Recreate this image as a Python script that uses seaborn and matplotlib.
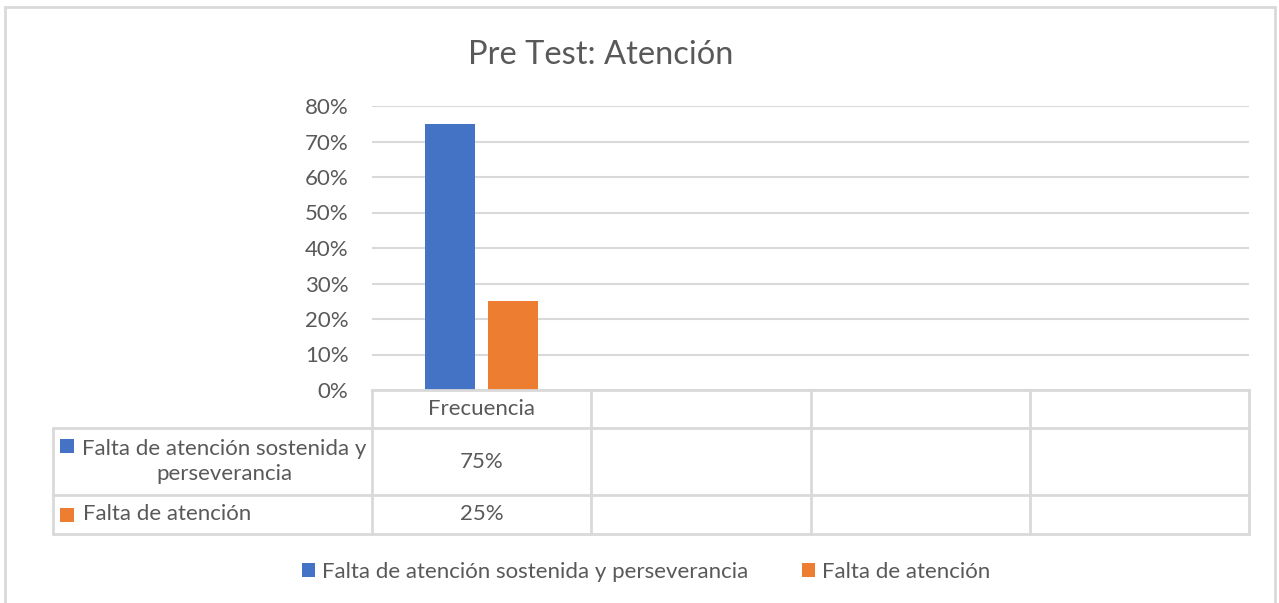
import pandas as pd
import matplotlib
matplotlib.use("Agg")
import matplotlib.pyplot as plt
import seaborn as sns
from matplotlib.patches import Patch, Rectangle
from matplotlib.lines import Line2D
from matplotlib.ticker import PercentFormatter
from matplotlib.transforms import blended_transform_factory

# === Data ===
title = "Pre Test: Atención"
categories = ["Frecuencia", " ", "  ", "   "]
series = ["Falta de atención sostenida y perseverancia", "Falta de atención"]
table_labels = ["Falta de atención sostenida y\nperseverancia", "Falta de atención"]
values = [0.75, 0.25]
colors = ["#4472C4", "#ED7D31"]

W, H = 1279, 603
TXT = "#595959"
GRID = "#d9d9d9"
FS = 16


def fx(x):
    return x / W


def fy(y):
    return 1 - y / H


def main():
    sns.set_theme(style="white")
    plt.rcParams["font.family"] = ["Lato", "DejaVu Sans"]

    df = pd.DataFrame({"categoria": [categories[0]] * len(series),
                       "serie": series,
                       "valor": values})

    fig = plt.figure(figsize=(W / 100, H / 100), dpi=100)
    fig.patch.set_facecolor("white")
    ax = fig.add_axes([fx(372), fy(390), fx(1249) - fx(372), fy(106) - fy(390)])

    sns.barplot(data=df, x="categoria", y="valor", hue="serie",
                order=categories, hue_order=series, palette=colors,
                saturation=1, width=0.575, gap=0.2, linewidth=0,
                legend=False, ax=ax)

    ax.set_xlim(-0.5, len(categories) - 0.5)
    ax.set_ylim(0, 0.8)
    ax.set_yticks([i / 10 for i in range(9)])
    ax.yaxis.set_major_formatter(PercentFormatter(1, decimals=0))
    ax.set_xticks([])
    ax.set_xlabel("")
    ax.set_ylabel("")
    ax.tick_params(axis="y", length=0, pad=17, labelsize=FS, labelcolor=TXT)
    ax.yaxis.grid(True, color=GRID, lw=1.5)
    ax.set_axisbelow(True)
    for s in ["top", "right", "left"]:
        ax.spines[s].set_visible(False)
    ax.spines["bottom"].set_color(GRID)
    ax.spines["bottom"].set_linewidth(2)

    fig.text(fx(601), fy(55), title, ha="center", va="center",
             fontsize=23.5, color=TXT)

    # === Data table below the axis ===
    tr = blended_transform_factory(ax.transData, fig.transFigure)
    n = len(categories)
    row_y = [390, 428, 495, 534]
    for xb in [i - 0.5 for i in range(n + 1)]:
        fig.add_artist(Line2D([xb, xb], [fy(390), fy(534)], transform=tr,
                              color=GRID, lw=2))
    fig.add_artist(Line2D([fx(53), fx(53)], [fy(428), fy(534)],
                          color=GRID, lw=2))
    for yy in row_y[1:]:
        fig.add_artist(Line2D([fx(53), fx(1249)], [fy(yy), fy(yy)],
                              color=GRID, lw=2))

    fig.text(0, fy(409), categories[0], transform=tr, ha="center", va="center",
             fontsize=FS, color=TXT)
    row_mid = [461.5, 514.5]
    square_top = [439, 508]
    for i, (val, col) in enumerate(zip(values, colors)):
        fig.text(0, fy(row_mid[i]), f"{val:.0%}", transform=tr,
                 ha="center", va="center", fontsize=FS, color=TXT)
        fig.add_artist(Rectangle((fx(60), fy(square_top[i] + 14)),
                                 fx(14), 14 / H, color=col, lw=0))
    fig.text(fx(224), fy(461.5), table_labels[0], ha="center", va="center",
             multialignment="center", fontsize=FS, color=TXT, linespacing=1.35)
    fig.text(fx(83), fy(514.5), table_labels[1], ha="left", va="center",
             fontsize=FS, color=TXT)

    # === Legend ===
    handles = [Patch(facecolor=c, edgecolor="none") for c in colors]
    fig.legend(handles, series, loc="center", bbox_to_anchor=(fx(646), fy(572)),
               ncol=2, frameon=False, fontsize=FS, labelcolor=TXT,
               handlelength=0.6, handleheight=0.6, handletextpad=0.3,
               columnspacing=2.4)

    # outer chart border
    fig.add_artist(Rectangle((fx(5.5), -0.05), fx(1275) - fx(5.5), fy(6.5) + 0.05,
                             fill=False, edgecolor=GRID, lw=2))

    fig.savefig("out.png", dpi=100, facecolor="white")


if __name__ == "__main__":
    main()
